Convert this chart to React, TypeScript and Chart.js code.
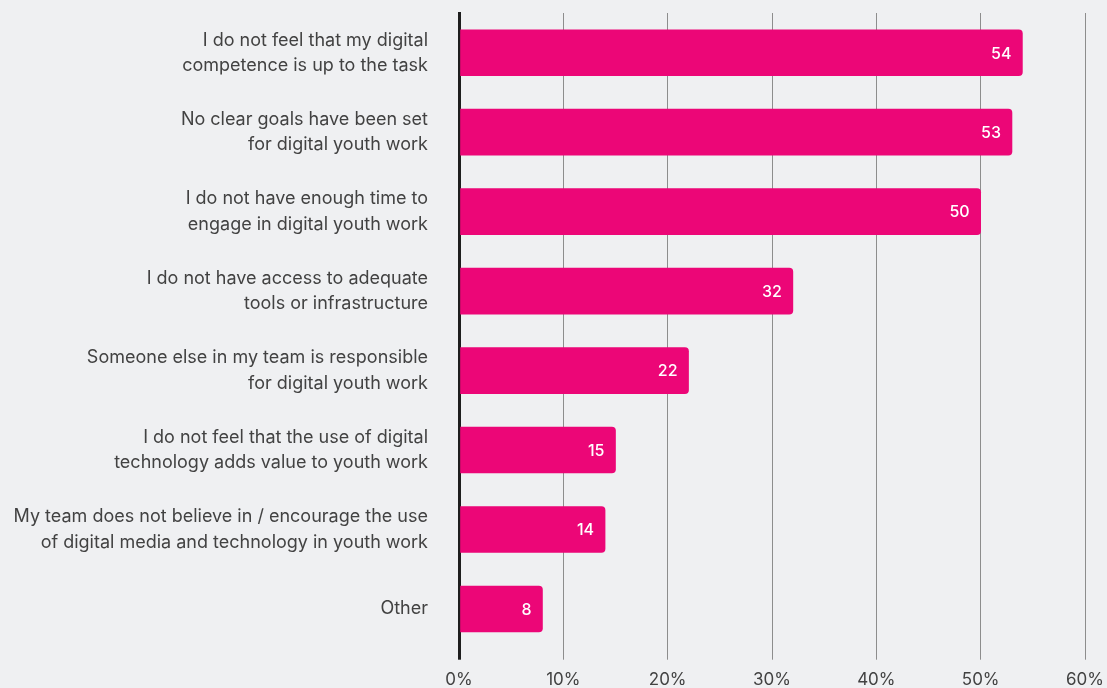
import React, { useEffect, useRef } from "react";
import { Chart, registerables } from "chart.js";

Chart.register(...registerables);

const categories: string[][] = [
  ["I do not feel that my digital", "competence is up to the task"],
  ["No clear goals have been set", "for digital youth work"],
  ["I do not have enough time to", "engage in digital youth work"],
  ["I do not have access to adequate", "tools or infrastructure"],
  ["Someone else in my team is responsible", "for digital youth work"],
  ["I do not feel that the use of digital", "technology adds value to youth work"],
  ["My team does not believe in / encourage the use", "of digital media and technology in youth work"],
  ["Other"],
];
const values: number[] = [54, 53, 50, 32, 22, 15, 14, 8];
const xTicks: number[] = [0, 10, 20, 30, 40, 50, 60];

const FONT = "Inter";
const BAR = "#ec0677";
const TEXT = "#424242";

const valueLabels = {
  id: "valueLabels",
  afterDatasetsDraw(chart: any) {
    const ctx = chart.ctx;
    const meta = chart.getDatasetMeta(0);
    ctx.save();
    ctx.fillStyle = "#ffffff";
    ctx.font = `500 16px ${FONT}`;
    ctx.textAlign = "right";
    ctx.textBaseline = "middle";
    meta.data.forEach((el: any, i: number) => {
      ctx.fillText(String(values[i]), el.x - 11, el.y + 1);
    });
    ctx.restore();
  },
};

export default function App() {
  const ref = useRef<HTMLCanvasElement | null>(null);
  useEffect(() => {
    if (!ref.current) return;
    const chart = new Chart(ref.current, {
      type: "bar",
      data: {
        labels: categories as any,
        datasets: [
          {
            data: values,
            backgroundColor: BAR,
            borderRadius: 4,
            borderSkipped: "start",
            barThickness: 46,
          },
        ],
      },
      options: {
        indexAxis: "y",
        animation: false,
        responsive: true,
        maintainAspectRatio: false,
        layout: { padding: { top: 13, right: 22, left: 0, bottom: 0 } },
        plugins: {
          legend: { display: false },
          tooltip: { enabled: false },
        },
        scales: {
          x: {
            min: 0,
            max: 60,
            afterBuildTicks: (scale: any) => {
              scale.ticks = xTicks.map((v) => ({ value: v }));
            },
            afterFit: (scale: any) => {
              scale.height = 39.3;
              scale.paddingLeft = 0;
              scale.paddingRight = 0;
            },
            grid: {
              color: (c: any) => (c.tick && c.tick.value === 0 ? "#1e1e1e" : "#8d8d8d"),
              lineWidth: (c: any) => (c.tick && c.tick.value === 0 ? 3 : 1),
              tickLength: 11,
              drawTicks: true,
            },
            border: { display: false },
            ticks: {
              callback: (v: any) => v + "%",
              color: TEXT,
              font: { family: FONT, size: 17 },
              padding: 10,
              maxRotation: 0,
            },
          },
          y: {
            afterFit: (scale: any) => {
              scale.width = 459;
              scale.paddingTop = 0;
              scale.paddingBottom = 0;
            },
            grid: { display: false, drawTicks: false },
            border: { display: true, color: "#1e1e1e", width: 3 },
            ticks: {
              color: TEXT,
              font: { family: FONT, size: 18, lineHeight: 1.4 },
              padding: 31,
              autoSkip: false,
            },
          },
        },
      },
      plugins: [valueLabels],
    });
    return () => chart.destroy();
  }, []);

  return (
    <div
      style={{
        position: "fixed",
        left: 0,
        top: 0,
        width: 1107,
        height: 688,
        background: "#eff0f2",
      }}
    >
      <canvas ref={ref} />
    </div>
  );
}
